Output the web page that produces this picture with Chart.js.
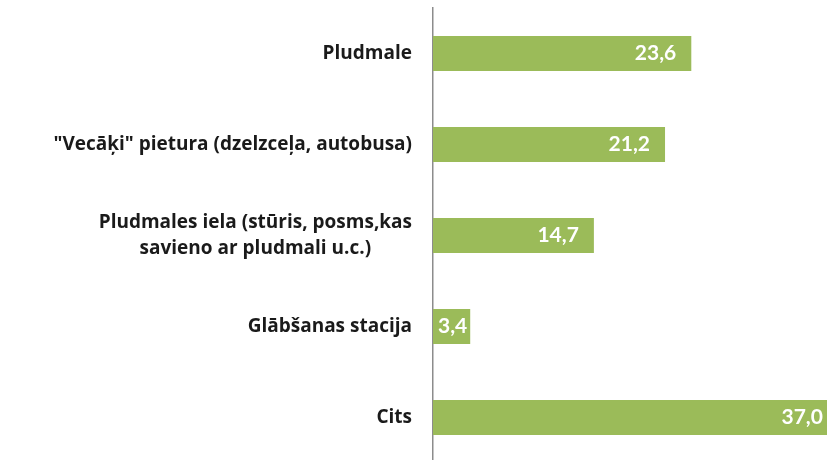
<!DOCTYPE html>
<html>
<head>
<meta charset="utf-8">
<script src="https://cdn.jsdelivr.net/npm/chart.js@4"></script>
<style>
  html, body { margin: 0; padding: 0; background: #fff; overflow: hidden; }
  #wrap { width: 850px; height: 466px; }
</style>
</head>
<body>
<div id="wrap"><canvas id="placesChart" width="850" height="466"></canvas></div>
<script>
const categories = [
  ["Pludmale"],
  ["\"Vecāķi\" pietura (dzelzceļa, autobusa)"],
  ["Pludmales iela (stūris, posms,kas", "savieno ar pludmali u.c.)"],
  ["Glābšanas stacija"],
  ["Cits"]
];
const values = [23.6, 21.2, 14.7, 3.4, 37.0];

const labelFont = "bold 19px 'Open Sans'";
const valueFont = "bold 21px Lato";

// category labels: right edge fixed, multi-line blocks centred on their widest line
const categoryLabels = {
  id: "categoryLabels",
  afterDraw(chart) {
    const c = chart.ctx;
    const y = chart.scales.y;
    const right = 412;
    const lineH = 26;
    c.save();
    c.font = labelFont;
    c.fillStyle = "#1a1a1a";
    c.textAlign = "center";
    c.textBaseline = "middle";
    categories.forEach((lines, i) => {
      const maxW = Math.max(...lines.map(l => c.measureText(l).width));
      const cx = right - maxW / 2;
      const cy = y.getPixelForValue(i);
      lines.forEach((l, j) => {
        c.fillText(l, cx, cy + (j - (lines.length - 1) / 2) * lineH);
      });
    });
    c.restore();
  }
};

// value labels inside the end of each bar
const valueLabels = {
  id: "valueLabels",
  afterDatasetsDraw(chart) {
    const c = chart.ctx;
    const meta = chart.getDatasetMeta(0);
    c.save();
    c.font = valueFont;
    c.fillStyle = "#fff";
    c.textBaseline = "middle";
    meta.data.forEach((bar, i) => {
      const txt = values[i].toFixed(1).replace(".", ",");
      const w = c.measureText(txt).width;
      const barW = bar.x - bar.base;
      if (w + 30 > barW) {
        c.textAlign = "center";
        c.fillText(txt, bar.base + barW / 2 + 1, bar.y);
      } else {
        c.textAlign = "right";
        c.fillText(txt, bar.x - 15, bar.y);
      }
    });
    c.restore();
  }
};

new Chart(document.getElementById("placesChart"), {
  type: "bar",
  data: {
    labels: categories.map(l => l.join(" ")),
    datasets: [{
      data: values,
      backgroundColor: "#9bbb59",
      borderWidth: 0,
      barPercentage: 0.385,
      categoryPercentage: 1
    }]
  },
  options: {
    indexAxis: "y",
    responsive: false,
    animation: false,
    layout: { padding: { left: 433, top: 8, bottom: 3, right: 0 } },
    plugins: {
      legend: { display: false },
      tooltip: { enabled: false }
    },
    scales: {
      x: { display: false, min: 0, max: 38.1 },
      y: {
        ticks: { display: false },
        grid: { display: false, drawTicks: false },
        border: { display: true, color: "#8c8c8c", width: 1.5 }
      }
    }
  },
  plugins: [categoryLabels, valueLabels]
});
</script>
</body>
</html>
